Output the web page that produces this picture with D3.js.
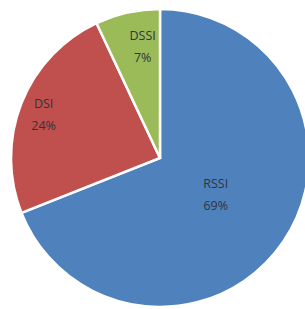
<!DOCTYPE html>
<html>
<head>
<meta charset="utf-8">
<script src="https://cdn.jsdelivr.net/npm/d3@7"></script>
<style>
  html, body { margin: 0; padding: 0; background: #fff; }
  svg { display: block; }
</style>
</head>
<body>
<svg id="chart" width="305" height="309"></svg>
<script>
const categories = ['RSSI', 'DSI', 'DSSI'];
const values = [69, 24, 7];
const colors = ['#4f81bd', '#c0504d', '#9bbb59'];

const svg = d3.select('#chart');
const cx = 160, cy = 158, radius = 149;

const g = svg.append('g').attr('transform', `translate(${cx},${cy})`);

const pie = d3.pie().sort(null).value(d => d.value);
const arcs = pie(categories.map((c, i) => ({ name: c, value: values[i], color: colors[i] })));

const arc = d3.arc().innerRadius(0).outerRadius(radius);

g.selectAll('path.slice')
  .data(arcs)
  .enter().append('path')
  .attr('class', 'slice')
  .attr('d', arc)
  .attr('fill', d => d.data.color)
  .attr('stroke', '#fff')
  .attr('stroke-width', 2.5)
  .attr('stroke-linejoin', 'miter');

// excel "best fit" puts the labels at different distances from the centre
const labelRadius = { RSSI: 0.46, DSI: 0.84, DSSI: 0.75 };
const labelShift = { RSSI: [-1, -5], DSI: [0, 0], DSSI: [7, -5] };

const labels = g.selectAll('text.label')
  .data(arcs)
  .enter().append('text')
  .attr('class', 'label')
  .attr('transform', d => {
    const r = radius * labelRadius[d.data.name];
    const [x, y] = d3.arc().innerRadius(r).outerRadius(r).centroid(d);
    const [sx, sy] = labelShift[d.data.name];
    return `translate(${x + sx},${y + sy})`;
  })
  .attr('text-anchor', 'middle')
  .attr('font-family', 'Open Sans, sans-serif')
  .attr('font-size', '12.5px')
  .attr('fill', '#30343e');

labels.append('tspan')
  .attr('x', 0)
  .attr('dy', '-0.3em')
  .text(d => d.data.name);

labels.append('tspan')
  .attr('x', 0)
  .attr('dy', '1.75em')
  .text(d => d.data.value + '%');
</script>
</body>
</html>
